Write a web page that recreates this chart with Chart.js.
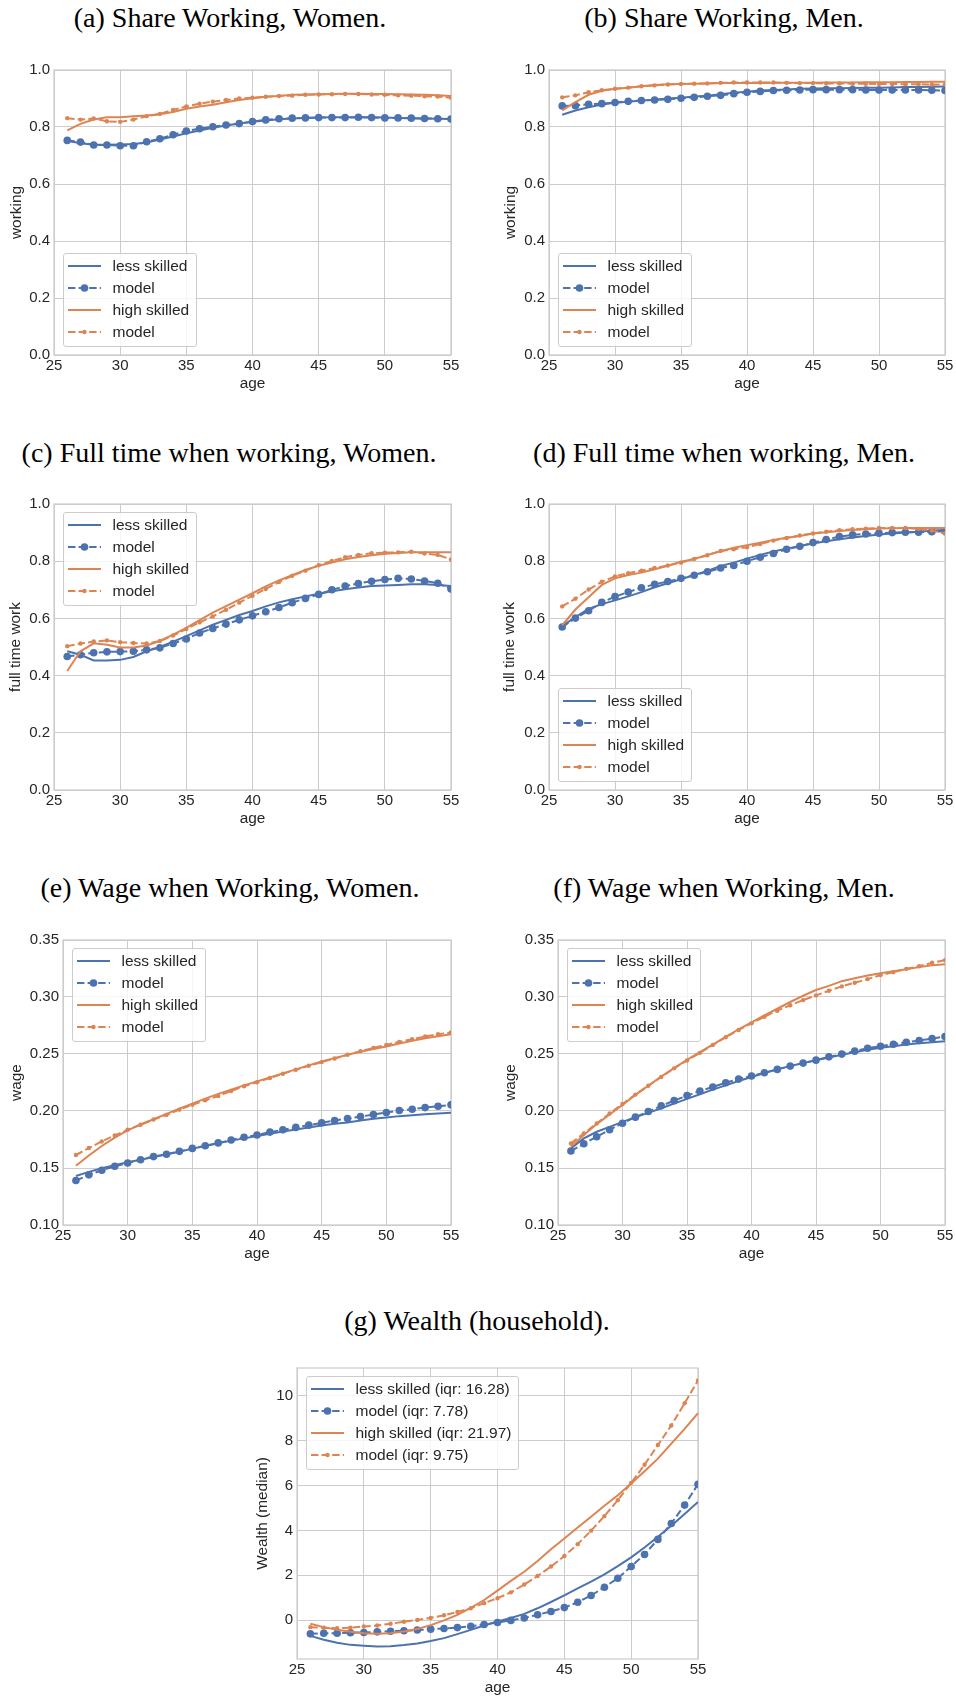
<!DOCTYPE html>
<html><head><meta charset="utf-8">
<script src="https://cdn.jsdelivr.net/npm/chart.js@4.4.1/dist/chart.umd.min.js"></script>
<style>
html,body{margin:0;padding:0;background:#fff;}
body{width:956px;height:1697px;position:relative;overflow:hidden;}
.title{position:absolute;font-family:'Liberation Serif','Times New Roman',serif;font-size:28px;line-height:28px;color:#000;white-space:nowrap;transform:translateX(-50%);}
canvas{position:absolute;}
.legend{position:absolute;background:rgba(255,255,255,0.8);border:1px solid #cccccc;border-radius:3px;box-sizing:border-box;padding:1px 7px 3px 4px;font-family:'Liberation Sans',Arial,sans-serif;font-size:15.5px;color:#262626;}
.legend .row{height:22px;display:flex;align-items:center;white-space:nowrap;}
.legend svg{width:33px;height:22px;margin-right:12px;flex:none;}
</style></head>
<body>
<script>
// ---- data ----
const ages = [26,27,28,29,30,31,32,33,34,35,36,37,38,39,40,41,42,43,44,45,46,47,48,49,50,51,52,53,54,55];
const xTicks = [25,30,35,40,45,50,55];
const yTicksShare = [0,0.2,0.4,0.6,0.8,1.0];
const yTicksWage = [0.10,0.15,0.20,0.25,0.30,0.35];
const yTicksWealth = [0,2,4,6,8,10];

const legendLabels = ['less skilled','model','high skilled','model'];
const legendLabelsWealth = ['less skilled (iqr: 16.28)','model (iqr: 7.78)','high skilled (iqr: 21.97)','model (iqr: 9.75)'];

const workWomenLess = [0.752,0.743,0.738,0.738,0.739,0.740,0.746,0.756,0.767,0.778,0.788,0.797,0.805,0.812,0.818,0.823,0.827,0.830,0.832,0.833,0.834,0.834,0.834,0.834,0.833,0.832,0.831,0.830,0.829,0.828];
const workWomenLessModel = [0.753,0.747,0.737,0.737,0.734,0.734,0.748,0.759,0.773,0.786,0.794,0.801,0.807,0.812,0.819,0.825,0.829,0.831,0.832,0.833,0.833,0.833,0.834,0.833,0.832,0.832,0.831,0.830,0.829,0.828];
const workWomenHigh = [0.788,0.811,0.826,0.834,0.834,0.838,0.840,0.845,0.853,0.864,0.872,0.878,0.887,0.895,0.901,0.906,0.909,0.913,0.914,0.915,0.916,0.917,0.917,0.916,0.916,0.915,0.914,0.913,0.911,0.909];
const workWomenHighModel = [0.831,0.826,0.830,0.820,0.818,0.826,0.838,0.846,0.860,0.872,0.882,0.889,0.895,0.900,0.903,0.906,0.909,0.910,0.913,0.914,0.915,0.916,0.916,0.914,0.913,0.911,0.910,0.908,0.907,0.903];

const workMenLess = [0.843,0.858,0.869,0.879,0.885,0.889,0.893,0.896,0.900,0.903,0.907,0.910,0.915,0.920,0.924,0.928,0.930,0.932,0.934,0.935,0.936,0.936,0.937,0.938,0.938,0.939,0.940,0.940,0.941,0.942];
const workMenLessModel = [0.874,0.875,0.880,0.882,0.886,0.890,0.893,0.895,0.897,0.901,0.904,0.908,0.911,0.917,0.922,0.925,0.928,0.929,0.930,0.931,0.931,0.931,0.931,0.930,0.930,0.930,0.930,0.930,0.929,0.928];
const workMenHigh = [0.858,0.887,0.913,0.927,0.934,0.938,0.943,0.947,0.950,0.951,0.952,0.953,0.954,0.954,0.954,0.954,0.955,0.955,0.955,0.955,0.956,0.956,0.956,0.957,0.957,0.957,0.958,0.958,0.959,0.959];
const workMenHighModel = [0.904,0.911,0.922,0.929,0.934,0.938,0.943,0.946,0.949,0.951,0.952,0.953,0.955,0.956,0.956,0.956,0.956,0.955,0.954,0.954,0.953,0.953,0.952,0.952,0.951,0.951,0.950,0.950,0.949,0.949];

const ftWomenLess = [0.485,0.473,0.453,0.453,0.455,0.465,0.485,0.500,0.519,0.538,0.558,0.578,0.595,0.612,0.626,0.642,0.656,0.667,0.677,0.686,0.695,0.702,0.708,0.713,0.715,0.717,0.719,0.719,0.717,0.713];
const ftWomenLessModel = [0.467,0.473,0.480,0.483,0.484,0.485,0.490,0.497,0.512,0.528,0.549,0.565,0.580,0.595,0.609,0.623,0.638,0.655,0.670,0.684,0.700,0.713,0.722,0.730,0.736,0.740,0.738,0.731,0.723,0.703];
const ftWomenHigh = [0.416,0.485,0.513,0.508,0.498,0.498,0.505,0.521,0.543,0.567,0.594,0.620,0.643,0.666,0.688,0.712,0.733,0.751,0.769,0.784,0.795,0.807,0.815,0.821,0.826,0.829,0.831,0.831,0.831,0.831];
const ftWomenHighModel = [0.503,0.512,0.519,0.523,0.517,0.514,0.512,0.521,0.540,0.563,0.586,0.607,0.630,0.655,0.679,0.703,0.727,0.749,0.767,0.786,0.801,0.814,0.822,0.828,0.830,0.831,0.833,0.827,0.822,0.806];

const ftMenLess = [0.573,0.605,0.633,0.650,0.663,0.677,0.692,0.709,0.723,0.737,0.752,0.766,0.783,0.795,0.809,0.822,0.834,0.844,0.853,0.862,0.870,0.877,0.883,0.888,0.893,0.897,0.900,0.903,0.907,0.909];
const ftMenLessModel = [0.570,0.601,0.627,0.656,0.676,0.692,0.707,0.719,0.729,0.740,0.751,0.763,0.776,0.785,0.800,0.814,0.827,0.842,0.852,0.865,0.876,0.886,0.892,0.895,0.898,0.900,0.901,0.901,0.903,0.905];
const ftMenHigh = [0.576,0.631,0.674,0.717,0.740,0.752,0.760,0.772,0.784,0.798,0.808,0.822,0.835,0.847,0.856,0.865,0.874,0.882,0.888,0.897,0.901,0.906,0.909,0.912,0.914,0.915,0.916,0.916,0.916,0.916];
const ftMenHighModel = [0.642,0.669,0.701,0.728,0.747,0.758,0.767,0.776,0.785,0.795,0.808,0.821,0.836,0.842,0.849,0.860,0.872,0.881,0.890,0.897,0.903,0.908,0.912,0.914,0.916,0.916,0.916,0.913,0.907,0.897];

const wageWomenLess = [0.143,0.1466,0.1498,0.1524,0.155,0.1573,0.1597,0.162,0.1643,0.167,0.1693,0.1716,0.174,0.176,0.178,0.180,0.182,0.1838,0.1856,0.1873,0.1888,0.190,0.1917,0.1931,0.1943,0.1955,0.1963,0.1972,0.1978,0.1984];
const wageWomenLessModel = [0.139,0.144,0.148,0.1515,0.1544,0.1573,0.160,0.162,0.1646,0.1672,0.1695,0.172,0.1745,0.177,0.179,0.1815,0.1835,0.1856,0.1876,0.1896,0.1917,0.1934,0.1951,0.1969,0.1987,0.2004,0.2016,0.203,0.2042,0.2054];
const wageWomenHigh = [0.152,0.161,0.1693,0.1766,0.183,0.1882,0.1928,0.1975,0.2021,0.2065,0.2109,0.215,0.2187,0.2225,0.226,0.2295,0.233,0.2365,0.240,0.2435,0.2464,0.2493,0.252,0.2543,0.2566,0.2592,0.2615,0.2638,0.2656,0.2673];
const wageWomenHighModel = [0.1614,0.1675,0.1733,0.1786,0.1835,0.1879,0.1925,0.1966,0.2012,0.2054,0.2094,0.2132,0.2176,0.2217,0.2252,0.229,0.2327,0.2362,0.2397,0.2429,0.2461,0.2493,0.2525,0.2554,0.258,0.2606,0.263,0.2653,0.2673,0.269];

const wageMenLess = [0.1672,0.176,0.1818,0.1861,0.1905,0.1946,0.1984,0.2024,0.2065,0.2106,0.2147,0.2187,0.2225,0.2263,0.2298,0.2333,0.2365,0.2394,0.242,0.2446,0.2469,0.2493,0.2516,0.2537,0.2554,0.2568,0.2583,0.2595,0.2603,0.2612];
const wageMenLessModel = [0.1649,0.1713,0.1774,0.1835,0.1893,0.1946,0.1995,0.2045,0.2091,0.2135,0.2176,0.2211,0.2248,0.228,0.2307,0.2336,0.2365,0.2394,0.242,0.2446,0.2475,0.2499,0.2525,0.2551,0.2568,0.2586,0.2603,0.2618,0.2635,0.2653];
const wageMenHigh = [0.1687,0.1789,0.1885,0.1969,0.2054,0.2141,0.2222,0.2301,0.2377,0.2449,0.2516,0.2583,0.265,0.2717,0.2778,0.2839,0.2897,0.2956,0.3011,0.3061,0.3098,0.3139,0.3165,0.3189,0.3209,0.3227,0.3244,0.3262,0.3279,0.3288];
const wageMenHighModel = [0.1716,0.1803,0.1891,0.1978,0.2062,0.2144,0.2222,0.2298,0.2374,0.2443,0.251,0.258,0.2647,0.2711,0.2769,0.2827,0.288,0.2927,0.2973,0.3014,0.3055,0.3093,0.3125,0.3157,0.3192,0.3218,0.3247,0.327,0.33,0.3323];

const wealthLess = [-0.70,-0.87,-1.01,-1.10,-1.14,-1.17,-1.16,-1.11,-1.04,-0.93,-0.80,-0.62,-0.43,-0.24,-0.06,0.10,0.28,0.53,0.81,1.11,1.42,1.72,2.04,2.41,2.80,3.24,3.72,4.21,4.73,5.27];
const wealthLessModel = [-0.61,-0.58,-0.58,-0.56,-0.55,-0.52,-0.49,-0.47,-0.44,-0.40,-0.37,-0.33,-0.27,-0.19,-0.10,-0.01,0.10,0.24,0.39,0.56,0.80,1.10,1.47,1.87,2.39,2.93,3.60,4.31,5.13,6.06];
const wealthHigh = [-0.16,-0.31,-0.43,-0.52,-0.58,-0.61,-0.58,-0.50,-0.39,-0.22,-0.01,0.24,0.55,0.90,1.32,1.75,2.16,2.64,3.16,3.64,4.13,4.61,5.10,5.57,6.09,6.64,7.20,7.87,8.53,9.23];
const wealthHighModel = [-0.31,-0.34,-0.36,-0.33,-0.28,-0.24,-0.16,-0.07,0.01,0.10,0.22,0.37,0.53,0.76,0.98,1.24,1.59,1.97,2.39,2.86,3.39,3.99,4.64,5.35,6.12,6.93,7.81,8.68,9.67,10.68];

// ---- style ----
const BLUE = '#4C72B0', ORANGE = '#DD8452', GRID = '#cccccc', TEXT = '#262626';
const DASH = [7.4, 3.2];
Chart.defaults.font.family = "'Liberation Sans', Arial, sans-serif";
Chart.defaults.color = TEXT;

const framePlugin = {
  id: 'frame',
  beforeDatasetsDraw(chart) {
    const {ctx, chartArea: a} = chart;
    ctx.save();
    ctx.strokeStyle = GRID; ctx.lineWidth = 1.25;
    ctx.strokeRect(a.left, a.top, a.right - a.left, a.bottom - a.top);
    ctx.restore();
  }
};

function addTitle(text, cx, top) {
  const d = document.createElement('div');
  d.className = 'title'; d.textContent = text;
  d.style.left = cx + 'px'; d.style.top = top + 'px';
  document.body.appendChild(d);
}

function sampleSVG(i) {
  const col = i < 2 ? BLUE : ORANGE;
  const dashed = i % 2 === 1;
  let s = '<svg viewBox="0 0 33 22"><line x1="0" y1="11" x2="33" y2="11" stroke="' + col + '" stroke-width="2"' +
    (dashed ? ' stroke-dasharray="' + DASH.join(' ') + '"' : '') + '/>';
  if (dashed) s += '<circle cx="16.5" cy="11" r="' + (i === 1 ? 3.8 : 2.2) + '" fill="' + col + '"/>';
  return s + '</svg>';
}

function addLegend(labels, left, top) {
  const d = document.createElement('div');
  d.className = 'legend';
  d.style.left = left + 'px'; d.style.top = top + 'px';
  d.innerHTML = labels.map((l, i) => '<div class="row">' + sampleSVG(i) + '<span>' + l + '</span></div>').join('');
  document.body.appendChild(d);
}

function makePanel(p) {
  const padTop = 12, padRight = 14, hx = 42;
  const cx = Math.round(p.ytx - 11.24);
  const wy = p.L - cx;
  const cy = p.T - padTop;
  const cw = (p.R - p.L) + wy + padRight;
  const ch = (p.B - p.T) + padTop + hx;
  const canvas = document.createElement('canvas');
  canvas.width = cw; canvas.height = ch;
  canvas.style.left = cx + 'px'; canvas.style.top = cy + 'px';
  canvas.style.width = cw + 'px'; canvas.style.height = ch + 'px';
  document.body.appendChild(canvas);

  const pts = arr => ages.map((a, i) => ({x: a, y: arr[i]}));
  const datasets = [
    {label: p.labels[0], data: pts(p.series[0]), borderColor: BLUE, borderWidth: 2, pointRadius: 0, order: 4},
    {label: p.labels[1], data: pts(p.series[1]), borderColor: BLUE, borderWidth: 2, borderDash: DASH,
      pointRadius: 3.8, pointBackgroundColor: BLUE, pointBorderWidth: 0, order: 3},
    {label: p.labels[2], data: pts(p.series[2]), borderColor: ORANGE, borderWidth: 2, pointRadius: 0, order: 2},
    {label: p.labels[3], data: pts(p.series[3]), borderColor: ORANGE, borderWidth: 2, borderDash: DASH,
      pointRadius: 2.2, pointBackgroundColor: ORANGE, pointBorderWidth: 0, order: 1}
  ];

  new Chart(canvas, {
    type: 'line',
    data: {datasets},
    plugins: [framePlugin],
    options: {
      responsive: false, animation: false, devicePixelRatio: 1,
      layout: {padding: {left: 0, top: padTop, right: padRight, bottom: 0}},
      plugins: {legend: {display: false}, tooltip: {enabled: false}},
      scales: {
        x: {
          type: 'linear', min: 25, max: 55,
          afterBuildTicks: s => { s.ticks = xTicks.map(v => ({value: v})); },
          afterFit: s => { s.height = hx; },
          ticks: {padding: 2, color: TEXT, font: {size: 15}, maxRotation: 0, autoSkip: false, callback: v => String(v)},
          grid: {color: GRID, lineWidth: 1, drawTicks: false},
          border: {display: false},
          title: {display: true, text: 'age', color: TEXT, font: {size: 15.4}, padding: {top: 0, bottom: 3.8}}
        },
        y: {
          type: 'linear', min: p.yMin, max: p.yMax,
          afterBuildTicks: s => { s.ticks = p.yTicks.map(v => ({value: v})); },
          afterFit: s => { s.width = wy; },
          ticks: {padding: 4, color: TEXT, font: {size: 15}, autoSkip: false, callback: v => Number(v).toFixed(p.dec)},
          grid: {color: GRID, lineWidth: 1, drawTicks: false},
          border: {display: false},
          title: {display: true, text: p.yTitle, color: TEXT, font: {size: 15.4}, padding: {top: 2, bottom: 0}}
        }
      }
    }
  });

  addTitle(p.title, p.titleX, p.titleTop);
  const lt = p.legendCorner === 'upper' ? p.T + 8.5 : p.B - 8 - 94;
  addLegend(p.labels, p.L + 8.5, lt);
}

const panels = [
  {title: '(a) Share Working, Women.', titleX: 230, titleTop: 4, L: 54, T: 69, R: 451, B: 355, ytx: 17,
    yMin: 0, yMax: 1, yTicks: yTicksShare, dec: 1, yTitle: 'working', legendCorner: 'lower', labels: legendLabels,
    series: [workWomenLess, workWomenLessModel, workWomenHigh, workWomenHighModel]},
  {title: '(b) Share Working, Men.', titleX: 724, titleTop: 4, L: 549, T: 69, R: 945, B: 355, ytx: 511,
    yMin: 0, yMax: 1, yTicks: yTicksShare, dec: 1, yTitle: 'working', legendCorner: 'lower', labels: legendLabels,
    series: [workMenLess, workMenLessModel, workMenHigh, workMenHighModel]},
  {title: '(c) Full time when working, Women.', titleX: 229, titleTop: 439, L: 54, T: 503, R: 451, B: 790, ytx: 16,
    yMin: 0, yMax: 1, yTicks: yTicksShare, dec: 1, yTitle: 'full time work', legendCorner: 'upper', labels: legendLabels,
    series: [ftWomenLess, ftWomenLessModel, ftWomenHigh, ftWomenHighModel]},
  {title: '(d) Full time when working, Men.', titleX: 724, titleTop: 439, L: 549, T: 503, R: 945, B: 790, ytx: 510,
    yMin: 0, yMax: 1, yTicks: yTicksShare, dec: 1, yTitle: 'full time work', legendCorner: 'lower', labels: legendLabels,
    series: [ftMenLess, ftMenLessModel, ftMenHigh, ftMenHighModel]},
  {title: '(e) Wage when Working, Women.', titleX: 230, titleTop: 874, L: 63, T: 939, R: 451, B: 1225, ytx: 17,
    yMin: 0.10, yMax: 0.35, yTicks: yTicksWage, dec: 2, yTitle: 'wage', legendCorner: 'upper', labels: legendLabels,
    series: [wageWomenLess, wageWomenLessModel, wageWomenHigh, wageWomenHighModel]},
  {title: '(f) Wage when Working, Men.', titleX: 724, titleTop: 874, L: 558, T: 939, R: 945, B: 1225, ytx: 511,
    yMin: 0.10, yMax: 0.35, yTicks: yTicksWage, dec: 2, yTitle: 'wage', legendCorner: 'upper', labels: legendLabels,
    series: [wageMenLess, wageMenLessModel, wageMenHigh, wageMenHighModel]},
  {title: '(g) Wealth (household).', titleX: 477, titleTop: 1307, L: 297, T: 1367, R: 698, B: 1659, ytx: 263,
    yMin: -1.73, yMax: 11.24, yTicks: yTicksWealth, dec: 0, yTitle: 'Wealth (median)', legendCorner: 'upper', labels: legendLabelsWealth,
    series: [wealthLess, wealthLessModel, wealthHigh, wealthHighModel]}
];

panels.forEach(makePanel);
</script>
</body></html>
